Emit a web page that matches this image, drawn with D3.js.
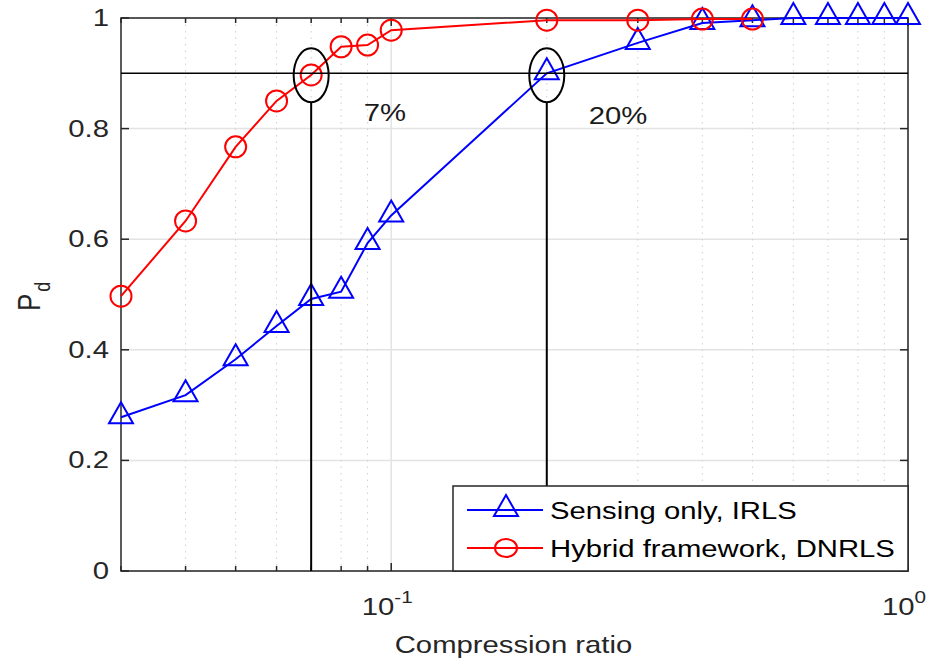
<!DOCTYPE html>
<html>
<head>
<meta charset="utf-8">
<script src="https://cdn.jsdelivr.net/npm/d3@7"></script>
<style>
  body { margin: 0; background: #fff; }
  svg { display: block; font-family: "Liberation Sans", Arial, sans-serif; }
</style>
</head>
<body>
<svg id="chart" width="931" height="661"></svg>
<script>
// compression ratios (x) and detection probability (Pd)
const ratios = [0.03, 0.04, 0.05, 0.06, 0.07, 0.08, 0.09, 0.1, 0.2, 0.3, 0.4, 0.5, 0.6, 0.7, 0.8, 0.9, 1.0];
const sensingPd = [0.278, 0.318, 0.383, 0.443, 0.492, 0.505, 0.593, 0.643, 0.900, 0.955, 0.991, 0.996, 1, 1, 1, 1, 1];
const hybridRatios = [0.03, 0.04, 0.05, 0.06, 0.07, 0.08, 0.09, 0.1, 0.2, 0.3, 0.4, 0.5];
const hybridPd = [0.497, 0.633, 0.767, 0.850, 0.897, 0.948, 0.951, 0.978, 0.996, 0.996, 0.998, 0.998];
const yTicks = [0, 0.2, 0.4, 0.6, 0.8, 1];
const xMajor = [0.1, 1];
const xMinor = [0.03, 0.04, 0.05, 0.06, 0.07, 0.08, 0.09, 0.2, 0.3, 0.4, 0.5, 0.6, 0.7, 0.8, 0.9];
const threshold = 0.9;
const marked = [{ x: 0.07, label: '7%' }, { x: 0.2, label: '20%' }];
const seriesNames = ['Sensing only, IRLS', 'Hybrid framework, DNRLS'];

const config = {
  left: 121, right: 908, top: 18, bottom: 571,
  axisColor: '#262626',
  stretch: 1.22,   // the source picture is stretched sideways
  fontSize: 24
};

const svg = d3.select('#chart');
const x = d3.scaleLog().domain([0.03, 1]).range([config.left, config.right]);
const y = d3.scaleLinear().domain([0, 1]).range([config.bottom, config.top]);

// stretched text helper
const label = (g, px, py, anchor) => g.append('text')
  .attr('transform', `translate(${px},${py}) scale(${config.stretch},1)`)
  .attr('text-anchor', anchor)
  .attr('font-size', config.fontSize)
  .attr('fill', config.axisColor);

// grid
const grid = svg.append('g');
grid.selectAll('.ygrid').data(yTicks).join('line')
  .attr('x1', config.left).attr('x2', config.right)
  .attr('y1', d => y(d)).attr('y2', d => y(d))
  .attr('stroke', '#e3e3e3').attr('stroke-width', 1.5);
grid.selectAll('.xgrid').data(xMajor).join('line')
  .attr('x1', d => x(d)).attr('x2', d => x(d))
  .attr('y1', config.top).attr('y2', config.bottom)
  .attr('stroke', '#e3e3e3').attr('stroke-width', 1.5);
grid.selectAll('.xminor').data(xMinor.slice(1)).join('line')
  .attr('x1', d => x(d)).attr('x2', d => x(d))
  .attr('y1', config.top).attr('y2', config.bottom)
  .attr('stroke', '#cfcfcf').attr('stroke-width', 1)
  .attr('stroke-dasharray', '1.5,5');

// axes box + ticks
const axes = svg.append('g').attr('stroke', config.axisColor).attr('stroke-width', 1.5);
axes.append('rect')
  .attr('x', config.left).attr('y', config.top)
  .attr('width', config.right - config.left).attr('height', config.bottom - config.top)
  .attr('fill', 'none');
yTicks.forEach(t => {
  axes.append('line').attr('x1', config.left).attr('x2', config.left + 8).attr('y1', y(t)).attr('y2', y(t));
  axes.append('line').attr('x1', config.right).attr('x2', config.right - 8).attr('y1', y(t)).attr('y2', y(t));
});
xMajor.concat(xMinor).forEach(t => {
  const len = xMajor.includes(t) ? 8 : 5;
  axes.append('line').attr('x1', x(t)).attr('x2', x(t)).attr('y1', config.bottom).attr('y2', config.bottom - len);
  axes.append('line').attr('x1', x(t)).attr('x2', x(t)).attr('y1', config.top).attr('y2', config.top + len);
});

// tick labels
const labels = svg.append('g');
yTicks.forEach(t => {
  label(labels, config.left - 12, y(t) + 8, 'end').text(d3.format('')(t));
});
xMajor.forEach(t => {
  const tx = label(labels, x(t) - 4, config.bottom + 44, 'middle');
  tx.append('tspan').text('10');
  tx.append('tspan').attr('dy', -12).attr('font-size', 17).text(Math.round(Math.log10(t)));
});
label(labels, (config.left + config.right) / 2 - 1, config.bottom + 82, 'middle').text('Compression ratio');
const yl = labels.append('text')
  .attr('transform', `translate(40,311) scale(${config.stretch},1) rotate(-90)`)
  .attr('font-size', 26).attr('fill', config.axisColor);
yl.append('tspan').text('P');
yl.append('tspan').attr('dy', 8).attr('dx', 2).attr('font-size', 18).text('d');

// series
const line = d3.line().x(d => x(d[0])).y(d => y(d[1]));
const sensing = ratios.map((r, i) => [r, sensingPd[i]]);
const hybrid = hybridRatios.map((r, i) => [r, hybridPd[i]]);
const triangle = 'M0,-15L12,6L-12,6Z';

svg.append('path').datum(sensing).attr('d', line)
  .attr('fill', 'none').attr('stroke', '#0000ff').attr('stroke-width', 2);
svg.append('g').selectAll('path').data(sensing).join('path')
  .attr('transform', d => `translate(${x(d[0])},${y(d[1])})`)
  .attr('d', triangle).attr('fill', 'none').attr('stroke', '#0000ff').attr('stroke-width', 2);

svg.append('path').datum(hybrid).attr('d', line)
  .attr('fill', 'none').attr('stroke', '#ff0000').attr('stroke-width', 2);
svg.append('g').selectAll('circle').data(hybrid).join('circle')
  .attr('cx', d => x(d[0])).attr('cy', d => y(d[1])).attr('r', 10.5)
  .attr('fill', 'none').attr('stroke', '#ff0000').attr('stroke-width', 2);

// annotations
const ann = svg.append('g').attr('stroke', '#000').attr('fill', 'none');
ann.append('line').attr('x1', config.left).attr('x2', config.right)
  .attr('y1', y(threshold)).attr('y2', y(threshold)).attr('stroke-width', 1.5);
marked.forEach(m => {
  const cx = x(m.x), cy = y(threshold) + 2;
  ann.append('ellipse').attr('cx', cx).attr('cy', cy).attr('rx', 17.5).attr('ry', 27).attr('stroke-width', 2);
  ann.append('line').attr('x1', cx).attr('x2', cx).attr('y1', cy + 27).attr('y2', config.bottom).attr('stroke-width', 2);
});
label(svg, 385, 121, 'middle').attr('fill', '#1a1a1a').text(marked[0].label);
label(svg, 618, 124, 'middle').attr('fill', '#1a1a1a').text(marked[1].label);

// legend
const legend = svg.append('g');
legend.append('rect').attr('x', 453).attr('y', 486).attr('width', config.right - 453).attr('height', config.bottom - 486)
  .attr('fill', '#fff').attr('stroke', config.axisColor).attr('stroke-width', 1.5);
[['#0000ff', 'tri'], ['#ff0000', 'circ']].forEach((s, i) => {
  const ly = 510 + i * 38;
  legend.append('line').attr('x1', 467).attr('x2', 543).attr('y1', ly).attr('y2', ly)
    .attr('stroke', s[0]).attr('stroke-width', 2);
  if (s[1] === 'tri') {
    legend.append('path').attr('transform', `translate(506,${ly})`).attr('d', triangle)
      .attr('fill', 'none').attr('stroke', s[0]).attr('stroke-width', 2);
  } else {
    legend.append('ellipse').attr('cx', 506).attr('cy', ly).attr('rx', 11).attr('ry', 9)
      .attr('fill', 'none').attr('stroke', s[0]).attr('stroke-width', 2);
  }
  label(legend, 550, ly + 9, 'start').attr('fill', '#000').text(seriesNames[i]);
});
</script>
</body>
</html>
